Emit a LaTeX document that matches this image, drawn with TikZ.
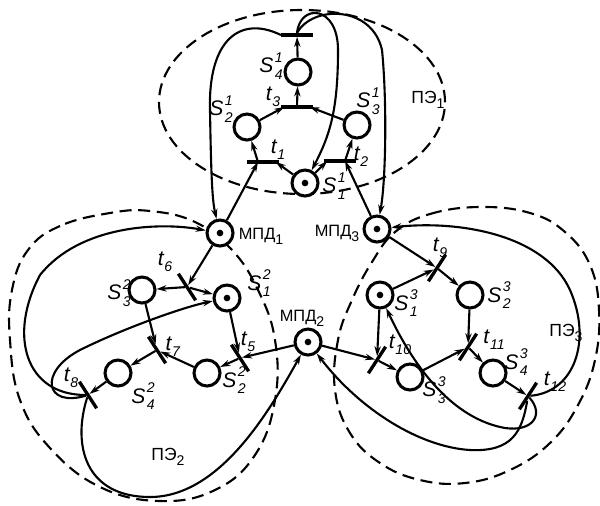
\documentclass[tikz,border=0pt]{standalone}
\usepackage{fontspec}
\setmainfont{Liberation Sans}
\usetikzlibrary{arrows.meta,positioning}

% indices of places and transitions
\newcommand{\idxfont}{\fontsize{12}{12}\selectfont}
\newcommand{\nlab}[3]{\textit{#1}\kern0.06em\rlap{\raisebox{0.5em}{\idxfont\textit{#3}}}\raisebox{-0.3em}{\idxfont\textit{#2}}}
\newcommand{\tlab}[1]{\textit{t}\raisebox{-0.3em}{\idxfont\textit{#1}}}
\newcommand{\blab}[2]{#1\raisebox{-0.3em}{\idxfont #2}}

\begin{document}
\begin{tikzpicture}
[x=0.3mm, y=-0.3mm,
place/.style={circle, draw, fill=white, line width=2.6pt, minimum size=7.8mm, inner sep=0pt},
marked/.style={place, path picture={\fill[black] (path picture bounding box.center) circle (1mm);}},
bar/.style={rectangle, fill=black, minimum width=9.5mm, minimum height=1mm, inner sep=0pt},
arc/.style={line width=1.8pt, -{Stealth[length=3mm,width=1.9mm]}},
zone/.style={line width=1.8pt, dash pattern=on 3.6mm off 2mm},
lbl/.style={inner sep=0pt, font=\fontsize{18}{18}\selectfont},
mlbl/.style={inner sep=0pt, font=\fontsize{14}{14}\selectfont},
plbl/.style={inner sep=0pt, font=\fontsize{15}{15}\selectfont},
]
\useasboundingbox (0,0) rectangle (600,505);

% processor element borders
\draw[zone] (302,102) ellipse [x radius=42.9mm, y radius=27.6mm];
\draw[zone] plot[smooth cycle, tension=0.7] coordinates {(110,213) (60,226) (28,250) (12,290) (10,340) (20,400) (50,448) (100,487) (160,501) (215,490) (255,455) (275,400) (275,340) (258,290) (232,250) (195,222) (150,211)};
\draw[zone] plot[smooth cycle, tension=0.7] coordinates {(395,232) (430,214) (480,207) (530,213) (565,232) (590,265) (599,310) (595,360) (578,405) (550,443) (510,470) (465,483) (420,480) (380,463) (350,433) (335,390) (338,340) (352,300) (372,262)};

% memory places
\node[marked] (m1) at (220,233) {};
\node[marked] (m2) at (308,342) {};
\node[marked] (m3) at (377,229) {};

% first element
\node[marked] (s11) at (305,183) {};
\node[place] (s21) at (247,127) {};
\node[place] (s31) at (357,125) {};
\node[place] (s41) at (298,72) {};
\node[bar] (t1) at (263,162) {};
\node[bar] (t2) at (340,161) {};
\node[bar] (t3) at (297,107) {};
\node[bar] (t4) at (297,35) {};

% second element
\node[marked] (s12) at (227,298) {};
\node[place] (s22) at (207,373) {};
\node[place] (s32) at (142,290) {};
\node[place] (s42) at (118,373) {};
\node[bar, rotate=-57] (t6) at (187,287) {};
\node[bar, rotate=-57] (t5) at (240,358) {};
\node[bar, rotate=-57] (t7) at (157,350) {};
\node[bar, rotate=-57] (t8) at (88,395) {};

% third element
\node[marked] (s13) at (380,295) {};
\node[place] (s23) at (470,295) {};
\node[place] (s33) at (410,377) {};
\node[place] (s43) at (493,373) {};
\node[bar, rotate=57] (t9) at (437,268) {};
\node[bar, rotate=57] (t10) at (377,360) {};
\node[bar, rotate=57] (t11) at (468,347) {};
\node[bar, rotate=57] (t12) at (528,396) {};

% arcs of the first element
\draw[arc] (s11) -- ([xshift=-1mm]t1.east);
\draw[arc] (s11) -- ([xshift=1mm]t2.west);
\draw[arc] (m1) -- ([xshift=-1.5mm]t1.center);
\draw[arc] (m3) -- ([xshift=1.5mm]t2.center);
\draw[arc] ([xshift=-1.5mm]t1.center) -- (s21);
\draw[arc] ([xshift=1.5mm]t2.center) -- (s31);
\draw[arc] (s21) -- ([xshift=1mm]t3.west);
\draw[arc] (s31) -- ([xshift=-1mm]t3.east);
\draw[arc] (t3) -- (s41);
\draw[arc] (s41) -- (t4);
\draw[arc] (t4.west) .. controls (240,15) and (208,40) .. (210,110) .. controls (211,170) and (212,200) .. (m1);
\draw[arc] (t4.north) .. controls (300,3) and (338,5) .. (338,50) .. controls (338,110) and (330,135) .. (s11);
\draw[arc] (t4.north) .. controls (312,5) and (372,5) .. (382,50) .. controls (387,100) and (386,180) .. (m3);

% arcs of the second element
\draw[arc] (m1) -- (t6);
\draw[arc] (t6) -- (s32);
\draw[arc] (t6) -- (s12);
\draw[arc] (s12) -- (t5);
\draw[arc] (m2) -- (t5);
\draw[arc] (t5) -- (s22);
\draw[arc] (s32) -- (t7);
\draw[arc] (s22) -- (t7);
\draw[arc] (t7) -- (s42);
\draw[arc] (s42) -- (t8);
\draw[arc] (t8) .. controls (25,395) and (8,335) .. (40,275) .. controls (80,225) and (160,222) .. (m1);
\draw[arc] (t8) .. controls (45,408) and (38,372) .. (80,350) .. controls (120,330) and (180,308) .. (s12);
\draw[arc] (t8) .. controls (72,445) and (85,497) .. (150,497) .. controls (220,497) and (270,410) .. (m2);

% arcs of the third element
\draw[arc] (m3) -- (t9);
\draw[arc] (s13) -- (t9);
\draw[arc] (t9) -- (s23);
\draw[arc] (s13) -- (t10);
\draw[arc] (m2) -- (t10);
\draw[arc] (t10) -- (s33);
\draw[arc] (s23) -- (t11);
\draw[arc] (s33) -- (t11);
\draw[arc] (t11) -- (s43);
\draw[arc] (s43) -- (t12);
\draw[arc] (t12) .. controls (575,392) and (592,340) .. (570,290) .. controls (545,235) and (460,220) .. (m3);
\draw[arc] (t12) .. controls (545,415) and (532,432) .. (505,428) .. controls (460,420) and (420,380) .. (s13);
\draw[arc] (t12) .. controls (522,432) and (512,452) .. (470,450) .. controls (420,447) and (360,410) .. (m2);

% labels
\node[lbl] (ls41) at (271,66) {\nlab{S}{4}{1}};
\node[lbl] (ls21) at (221,109) {\nlab{S}{2}{1}};
\node[lbl] (ls31) at (368,101) {\nlab{S}{3}{1}};
\node[lbl] (ls11) at (334,186) {\nlab{S}{1}{1}};
\node[lbl] (lt3) at (273,97) {\tlab{3}};
\node[lbl] (lt1) at (278,150) {\tlab{1}};
\node[lbl] (lt2) at (361,157) {\tlab{2}};
\node[plbl] (lp1) at (428,100) {\blab{ПЭ}{1}};
\node[mlbl] (lm1) at (261,236) {\blab{МПД}{1}};
\node[mlbl] (lm3) at (337,233) {\blab{МПД}{3}};
\node[mlbl] (lm2) at (302,318) {\blab{МПД}{2}};
\node[lbl] (lt6) at (165,262) {\tlab{6}};
\node[lbl] (ls32) at (119,293) {\nlab{S}{3}{2}};
\node[lbl] (ls12) at (259,283) {\nlab{S}{1}{2}};
\node[lbl] (lt5) at (248,342) {\tlab{5}};
\node[lbl] (lt7) at (173,347) {\tlab{7}};
\node[lbl] (lt8) at (71,378) {\tlab{8}};
\node[lbl] (ls42) at (143,396) {\nlab{S}{4}{2}};
\node[lbl] (ls22) at (234,380) {\nlab{S}{2}{2}};
\node[plbl] (lp2) at (168,457) {\blab{ПЭ}{2}};
\node[lbl] (lt9) at (440,248) {\tlab{9}};
\node[lbl] (ls13) at (406,303) {\nlab{S}{1}{3}};
\node[lbl] (ls23) at (499,295) {\nlab{S}{2}{3}};
\node[lbl] (lt10) at (400,345) {\tlab{10}};
\node[lbl] (lt11) at (494,340) {\tlab{11}};
\node[lbl] (ls33) at (434,390) {\nlab{S}{3}{3}};
\node[lbl] (ls43) at (516,362) {\nlab{S}{4}{3}};
\node[lbl] (lt12) at (555,382) {\tlab{12}};
\node[plbl] (lp3) at (566,333) {\blab{ПЭ}{3}};
\end{tikzpicture}
\end{document}
